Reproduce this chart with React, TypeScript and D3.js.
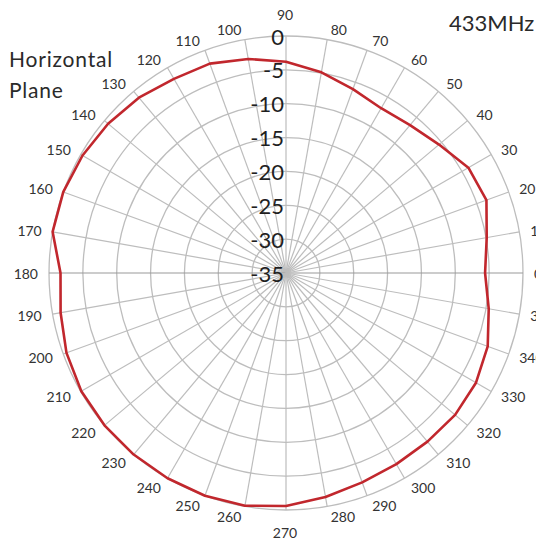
import { useEffect, useRef } from "react";
import * as d3 from "d3";

// measured gain, dB, one value every 10 degrees starting at 0
const angles = [
  0, 10, 20, 30, 40, 50, 60, 70, 80, 90, 100, 110, 120, 130, 140, 150, 160, 170,
  180, 190, 200, 210, 220, 230, 240, 250, 260, 270, 280, 290, 300, 310, 320, 330, 340, 350,
];
const gain = [
  -5.6, -4.9, -3.5, -3.9, -5.5, -6.5, -6.9, -6.1, -4.9, -3.8, -2.9, -2.1, -1.9, -1.2, -0.7, -0.3, 0, 0,
  -1.7, -1.2, -0.5, -0.1, 0, 0, 0, 0, -0.1, -0.6, -1.4, -2.1, -2.4, -2.5, -2.4, -2.6, -3.3, -4.6,
];
const ringTicks = [-35, -30, -25, -20, -15, -10, -5, 0];

const RED = "#c1272d";
const GRID = "#bdbdbd";
const FONT = "Lato, 'Noto Sans', sans-serif";

export default function App() {
  const ref = useRef<SVGSVGElement>(null);

  useEffect(() => {
    if (!ref.current) return;
    const width = 536;
    const height = 544;
    const cx = 286;
    const cy = 273;
    const R = 237;

    const svg = d3.select(ref.current);
    svg.selectAll("*").remove();
    svg.attr("width", width).attr("height", height);

    svg.append("rect").attr("width", width).attr("height", height).attr("fill", "#fff");

    const r = d3.scaleLinear().domain([-35, 0]).range([0, R]);
    const rad = (deg: number) => (deg * Math.PI) / 180;

    const g = svg.append("g").attr("transform", `translate(${cx},${cy})`);

    // rings
    g.append("g")
      .selectAll("circle")
      .data(ringTicks.slice(1))
      .join("circle")
      .attr("r", (d) => r(d))
      .attr("fill", "none")
      .attr("stroke", GRID)
      .attr("stroke-width", 1.3);

    // spokes
    g.append("g")
      .selectAll("line")
      .data(angles)
      .join("line")
      .attr("x1", 0)
      .attr("y1", 0)
      .attr("x2", (d) => R * Math.cos(rad(d)))
      .attr("y2", (d) => -R * Math.sin(rad(d)))
      .attr("stroke", (d) => (d === 0 || d === 180 ? "#9a9a9a" : GRID))
      .attr("stroke-width", 1.2);

    // angle labels
    g.append("g")
      .selectAll("text")
      .data(angles)
      .join("text")
      .each(function (d) {
        const c = Math.cos(rad(d));
        const s = Math.sin(rad(d));
        const px = R * c;
        const py = -R * s;
        const t = d3.select(this);
        if (d === 90 || d === 270) {
          t.attr("x", px - 1)
            .attr("y", py + (d === 90 ? -21.5 : 22.5))
            .attr("text-anchor", "middle");
        } else {
          const gap = 2 + 9 * Math.abs(c);
          t.attr("x", px + Math.sign(c) * gap)
            .attr("y", py - (s > 0 ? 10 : 10.5) * s)
            .attr("text-anchor", c < 0 ? "end" : "start");
        }
      })
      .attr("dominant-baseline", "central")
      .attr("font-family", FONT)
      .attr("font-size", 14)
      .attr("fill", "#333")
      .text((d) => `${d}`);

    // gain trace
    const line = d3
      .lineRadial<number>()
      .angle((_, i) => rad(90 - angles[i]))
      .radius((d) => r(d))
      .curve(d3.curveLinearClosed);

    g.append("path")
      .datum(gain)
      .attr("d", line)
      .attr("fill", "none")
      .attr("stroke", RED)
      .attr("stroke-width", 2.6)
      .attr("stroke-linejoin", "round");

    // dB labels along the vertical axis
    g.append("g")
      .selectAll("text")
      .data(ringTicks)
      .join("text")
      .attr("x", -2)
      .attr("y", (d) => -r(d))
      .attr("text-anchor", "end")
      .attr("dominant-baseline", "central")
      .attr("font-family", FONT)
      .attr("font-size", 22)
      .attr("fill", "#1f1f1f")
      .text((d) => `${d}`);

    svg.append("text")
      .attr("x", 449)
      .attr("y", 31)
      .attr("font-family", FONT)
      .attr("font-size", 22)
      .attr("fill", "#2a2a2a")
      .text("433MHz");

    const title = svg
      .append("text")
      .attr("font-family", FONT)
      .attr("font-size", 21)
      .attr("letter-spacing", 0.8)
      .attr("fill", "#2a2a2a");
    title.append("tspan").attr("x", 9).attr("y", 67).text("Horizontal");
    title.append("tspan").attr("x", 9).attr("y", 97.5).text("Plane");
  }, []);

  return (
    <div style={{ position: "absolute", left: 0, top: 0 }}>
      <svg ref={ref} style={{ display: "block" }} />
    </div>
  );
}
